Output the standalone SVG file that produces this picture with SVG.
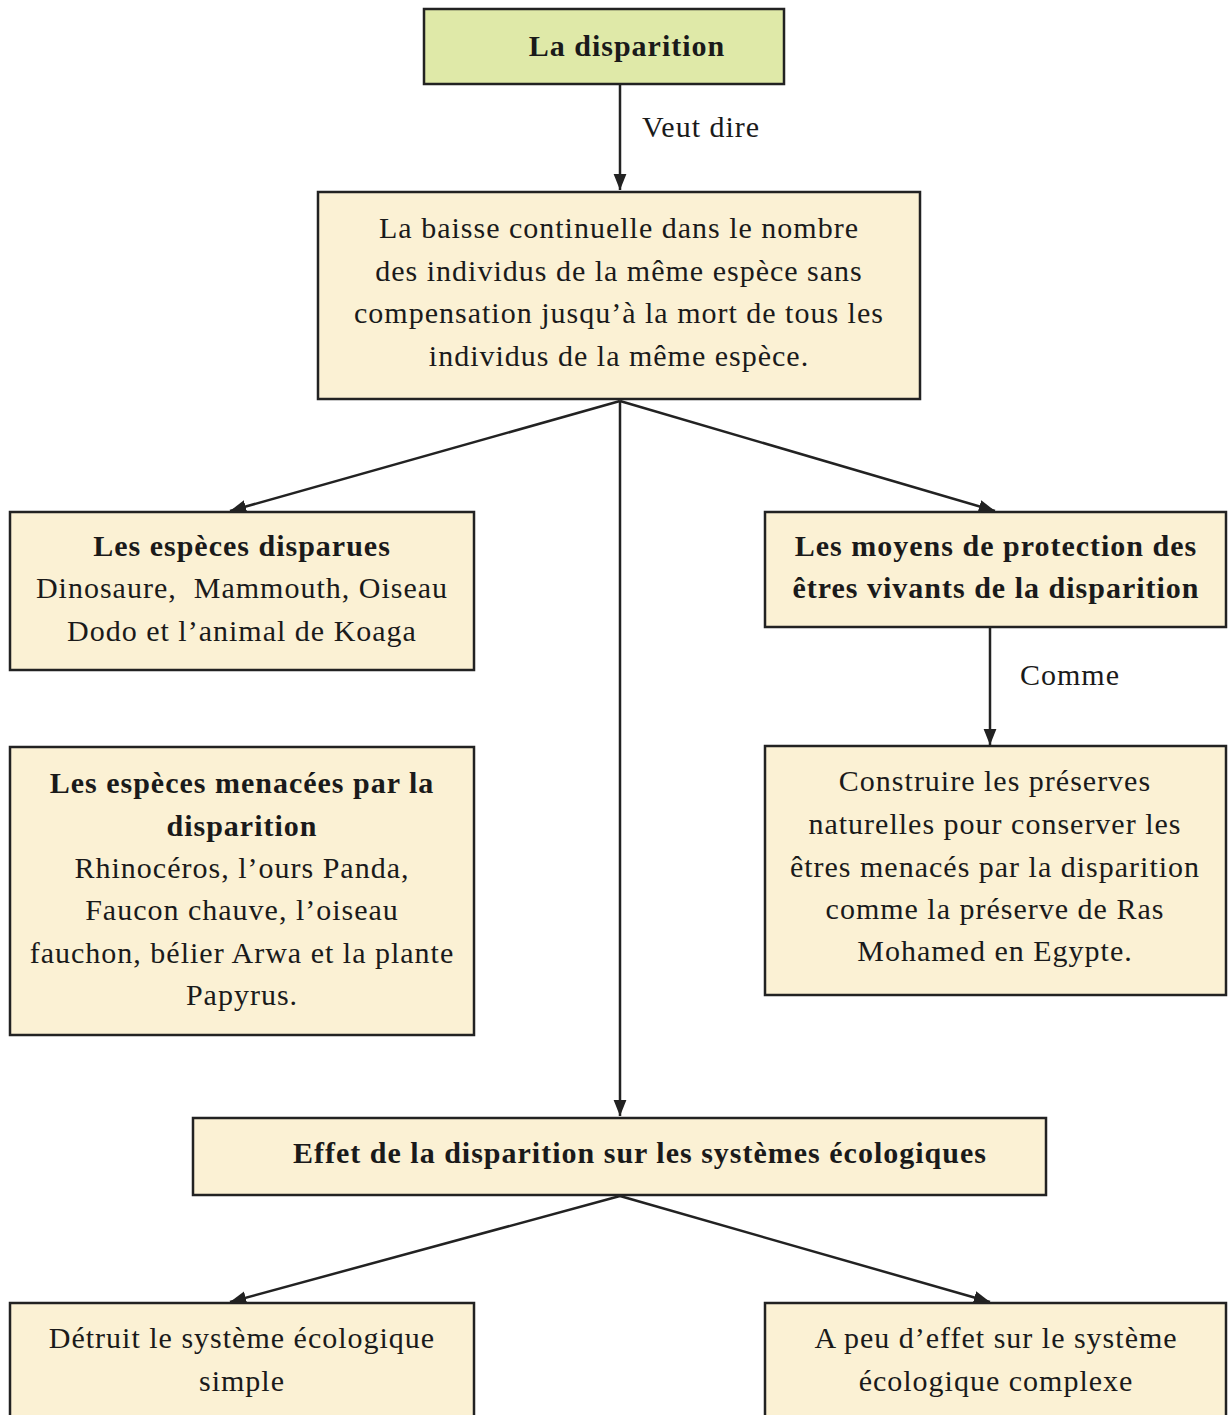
<svg xmlns="http://www.w3.org/2000/svg" width="1228" height="1415" viewBox="0 0 1228 1415">
<style>
.box{fill:#fbf1d4;stroke:#222;stroke-width:2.5}
.top{fill:#dfe9a8;stroke:#222;stroke-width:2.5}
.t{font-family:"Liberation Serif","Times New Roman",serif;font-size:30px;letter-spacing:1px;fill:#1a1a1a;text-anchor:middle}
.b{font-weight:bold}
.lbl{font-family:"Liberation Serif","Times New Roman",serif;font-size:30px;letter-spacing:1px;fill:#1a1a1a}
.c{stroke:#222;stroke-width:2.5;fill:none;marker-end:url(#ah)}
</style>
<defs>
<marker id="ah" viewBox="0 0 10 10" refX="10" refY="5" markerWidth="6.5" markerHeight="6.5" orient="auto" markerUnits="strokeWidth">
<path d="M0,1 L10,5 L0,9 z" fill="#222"/>
</marker>
</defs>
<rect width="1228" height="1415" fill="#fff"/>
<g id="connectors">
<line class="c" x1="620" y1="85" x2="620" y2="190"/>
<line class="c" x1="620" y1="401" x2="230" y2="511"/>
<line class="c" x1="620" y1="401" x2="995" y2="511"/>
<line class="c" x1="620" y1="401" x2="620" y2="1116"/>
<line class="c" x1="990" y1="628" x2="990" y2="745"/>
<line class="c" x1="620" y1="1196" x2="230" y2="1302"/>
<line class="c" x1="620" y1="1196" x2="990" y2="1302"/>
<text class="lbl" x="642" y="137">Veut dire</text>
<text class="lbl" x="1020" y="685">Comme</text>
</g>
<g id="n-disparition">
<rect class="top" x="424" y="9" width="360" height="75"/>
<text class="t b" x="627" y="56">La disparition</text>
</g>
<g id="n-definition">
<rect class="box" x="318" y="192" width="602" height="207"/>
<text class="t" x="619" y="238">La baisse continuelle dans le nombre</text>
<text class="t" x="619" y="281">des individus de la même espèce sans</text>
<text class="t" x="619" y="323">compensation jusqu’à la mort de tous les</text>
<text class="t" x="619" y="366">individus de la même espèce.</text>
</g>
<g id="n-disparues">
<rect class="box" x="10" y="512" width="464" height="158"/>
<text class="t b" x="242" y="556">Les espèces disparues</text>
<text class="t" x="242" y="598" xml:space="preserve">Dinosaure,  Mammouth, Oiseau</text>
<text class="t" x="242" y="641">Dodo et l’animal de Koaga</text>
</g>
<g id="n-moyens">
<rect class="box" x="765" y="512" width="461" height="115"/>
<text class="t b" x="996" y="556">Les moyens de protection des</text>
<text class="t b" x="996" y="598">êtres vivants de la disparition</text>
</g>
<g id="n-menacees">
<rect class="box" x="10" y="747" width="464" height="288"/>
<text class="t b" x="242" y="793">Les espèces menacées par la</text>
<text class="t b" x="242" y="836">disparition</text>
<text class="t" x="242" y="878">Rhinocéros, l’ours Panda,</text>
<text class="t" x="242" y="920">Faucon chauve, l’oiseau</text>
<text class="t" x="242" y="963">fauchon, bélier Arwa et la plante</text>
<text class="t" x="242" y="1005">Papyrus.</text>
</g>
<g id="n-preserves">
<rect class="box" x="765" y="746" width="461" height="249"/>
<text class="t" x="995" y="791">Construire les préserves</text>
<text class="t" x="995" y="834">naturelles pour conserver les</text>
<text class="t" x="995" y="877">êtres menacés par la disparition</text>
<text class="t" x="995" y="919">comme la préserve de Ras</text>
<text class="t" x="995" y="961">Mohamed en Egypte.</text>
</g>
<g id="n-effet">
<rect class="box" x="193" y="1118" width="853" height="77"/>
<text class="t b" x="640" y="1163">Effet de la disparition sur les systèmes écologiques</text>
</g>
<g id="n-simple">
<rect class="box" x="10" y="1303" width="464" height="130"/>
<text class="t" x="242" y="1348">Détruit le système écologique</text>
<text class="t" x="242" y="1391">simple</text>
</g>
<g id="n-complexe">
<rect class="box" x="765" y="1303" width="461" height="130"/>
<text class="t" x="996" y="1348">A peu d’effet sur le système</text>
<text class="t" x="996" y="1391">écologique complexe</text>
</g>
</svg>
